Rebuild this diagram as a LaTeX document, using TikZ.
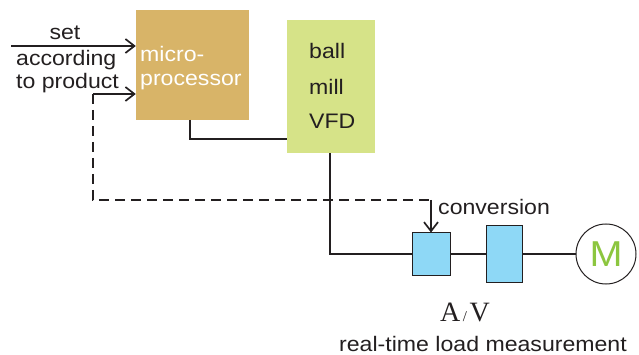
\documentclass[tikz,border=0pt]{standalone}
\usepackage{fontspec}
\setmainfont[FakeStretch=1.1]{Liberation Sans}
\newfontfamily\serifface{Liberation Serif}
\usetikzlibrary{arrows.meta}
\definecolor{mpfill}{HTML}{D8B468}
\definecolor{vfdfill}{HTML}{D6E388}
\definecolor{meterfill}{HTML}{8ED8F6}
\definecolor{ink}{HTML}{231F20}
\definecolor{motorgreen}{HTML}{8CC63F}
\tikzset{
  wire/.style={draw=ink, line width=1.2pt},
  feed/.style={wire, -{Straight Barb[length=9pt,width=14pt,line width=1.7pt]}},
  dashwire/.style={wire, dash pattern=on 10pt off 6pt},
  lbl/.style={font=\fontsize{21}{23}\selectfont, text=ink, inner sep=0pt},
  meter/.style={draw=ink, line width=1pt, fill=meterfill, inner sep=0pt}
}
\begin{document}
\begin{tikzpicture}[x=1pt,y=-1pt]
\useasboundingbox (0,0) rectangle (639,355);

% controller and drive
\node[fill=mpfill, minimum width=113pt, minimum height=110pt, inner sep=0pt] (mp) at (192.5,65) {};
\node[fill=vfdfill, minimum width=88pt, minimum height=133pt, inner sep=0pt] (vfd) at (331,86.5) {};
\node[lbl, font=\fontsize{21}{24}\selectfont, text=white, anchor=west, align=left] (mptext) at (140,68.5) {micro-\\processor};
\node[lbl, anchor=west] (vball) at (309,51) {ball};
\node[lbl, anchor=west] (vmill) at (309,87) {mill};
\node[lbl, anchor=west] (vvfd) at (309,121) {VFD};

% measurement chain and motor
\node[meter, minimum width=38pt, minimum height=42pt] (b1) at (431,254) {};
\node[meter, minimum width=36pt, minimum height=56pt] (b2) at (504,254) {};
\node[draw=ink, line width=1pt, fill=white, circle, minimum size=60pt, inner sep=0pt,
      font=\fontsize{36}{36}\selectfont, text=motorgreen] (mot) at (606,254) {M};

% texts
\node[lbl] (tset) at (65,33) {set};
\node[lbl, anchor=west, align=left] (tacc) at (16,71.5) {according\\to product};
\node[lbl, anchor=west] (tconv) at (438,207) {conversion};
\node[inner sep=0pt, font=\serifface\fontsize{28}{28}\selectfont, text=ink] (tav) at (465,312)
  {A{\fontsize{15}{15}\selectfont\,/\,}V};
\node[lbl, anchor=base] (tmeas) at (483,351) {real-time load measurement};

% connector points
\coordinate (setin) at (11,46);
\coordinate (fbin) at (93,94);
\coordinate (fbcorner) at (93,200);
\coordinate (fbdrop) at (431,200);
\coordinate (mpout) at (190,120);
\coordinate (vfdin) at (287,139);
\coordinate (vfdout) at (330,153);
\coordinate (lineknee) at (330,254);

% connectors
\draw[feed] (setin) -- (setin -| mp.west);
\draw[feed] (fbin) -- (fbin -| mp.west);
\draw[dashwire] (fbin) -- (fbcorner) -- (fbdrop);
\draw[feed] (fbdrop) -- (b1.north);
\draw[wire] (mpout) |- (vfdin);
\draw[wire] (vfdout) -- (lineknee) -- (b1.west);
\draw[wire] (b1.east) -- (b2.west);
\draw[wire] (b2.east) -- (mot.west);
\end{tikzpicture}
\end{document}
